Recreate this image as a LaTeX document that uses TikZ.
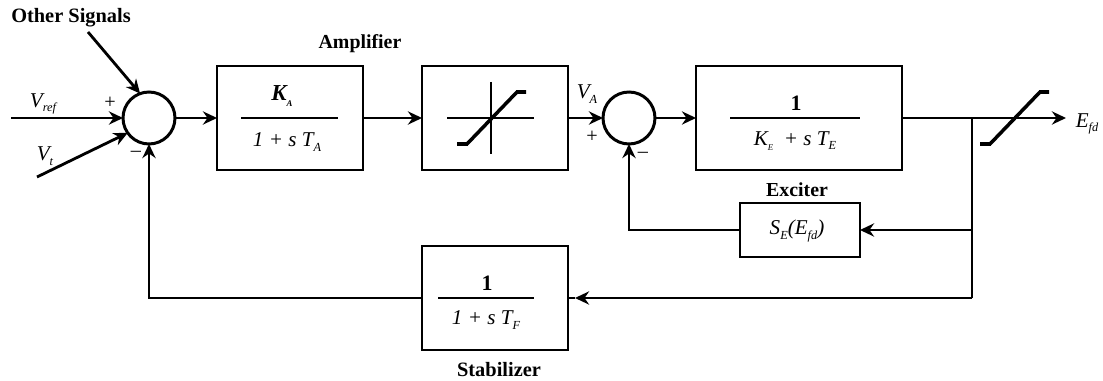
\documentclass[tikz,border=0pt]{standalone}
\usepackage{fontspec}
\setmainfont{Liberation Serif}
\usetikzlibrary{arrows.meta}
\newcommand{\lowsub}[1]{\raisebox{-.45ex}{\scriptsize\itshape #1}}
\newcommand{\lowtiny}[1]{\raisebox{-.5ex}{\tiny #1}}
\tikzset{
  blockbox/.style={draw,line width=1.6pt,inner sep=0pt,outer sep=0pt},
  sumnode/.style={draw,circle,line width=1.7pt,minimum size=1.04cm,inner sep=0pt,outer sep=0pt},
  sigline/.style={line width=1.6pt,-{Stealth[length=8pt,width=7.5pt]}},
  plainline/.style={line width=1.6pt},
  fracbar/.style={line width=1.6pt},
  thinbar/.style={line width=1pt},
  boldlabel/.style={font=\bfseries\fontsize{11.3}{13}\selectfont,inner sep=0pt},
  siglabel/.style={font=\itshape\fontsize{12}{13}\selectfont,inner sep=0pt},
  signlabel/.style={font=\fontsize{11.5}{13}\selectfont,inner sep=0pt},
}
\begin{document}
\begin{tikzpicture}[x=0.02cm,y=-0.02cm]
  \useasboundingbox (0,0) rectangle (1103,381);
  % summing junctions
  \node[sumnode] (sumA) at (149,118) {};
  \node[sumnode] (sumE) at (629,118) {};
  % blocks
  \node[blockbox,minimum width=2.92cm,minimum height=2.08cm] (ampBox) at (290,118) {};
  \node[blockbox,minimum width=2.92cm,minimum height=2.08cm] (limBox) at (495,118) {};
  \node[blockbox,minimum width=4.12cm,minimum height=2.08cm] (excBox) at (799,118) {};
  \node[blockbox,minimum width=2.4cm,minimum height=1.08cm] (satBox) at (800,230) {};
  \node[blockbox,minimum width=2.92cm,minimum height=2.08cm] (stabBox) at (495,298) {};
  % amplifier
  \draw[fracbar] (241,118) -- (338,118);
  \node[siglabel,font=\bfseries\itshape\fontsize{13}{13}\selectfont] (ampNum) at (282,96) {K\lowtiny{A}};
  \node[siglabel] (ampDen) at (287,142) {1 + s T\lowsub{A}};
  % limiter
  \draw[fracbar] (447,118) -- (534,118);
  \draw[thinbar] (491,82) -- (491,154);
  \draw[line width=2pt] (457,144) -- (467,144) -- (517,92) -- (526,92);
  % exciter
  \draw[fracbar] (730,118) -- (860,118);
  \node[boldlabel,font=\bfseries\fontsize{12.5}{13}\selectfont] (excNum) at (796,103) {1};
  \node[siglabel] (excDen) at (795,141) {K\lowtiny{E}~ + s T\lowsub{E}};
  \node[siglabel] (satText) at (797,231) {S\lowsub{E}(E\lowsub{fd})};
  % stabilizer
  \draw[fracbar] (438,298) -- (534,298);
  \node[boldlabel,font=\bfseries\fontsize{12.5}{13}\selectfont] (stabNum) at (487,283) {1};
  \node[siglabel] (stabDen) at (486,320) {1 + s T\lowsub{F}};
  % output limit
  \draw[line width=2pt] (980,144) -- (990,144) -- (1040,92) -- (1049,92);
  % inputs
  \coordinate (refIn) at (11,118);
  \coordinate (tIn) at (37,177);
  \coordinate (otherIn) at (88,32);
  \draw[sigline] (refIn) -- (sumA.west);
  \draw[sigline] (tIn) -- (sumA.215);
  \draw[sigline] (otherIn) -- (sumA.110);
  % forward path
  \draw[sigline] (sumA.east) -- (ampBox.west);
  \draw[sigline] (ampBox.east) -- (limBox.west);
  \draw[sigline] (limBox.east) -- (sumE.west);
  \draw[sigline] (sumE.east) -- (excBox.west);
  \coordinate (tapOut) at (972,118);
  \coordinate (tapSat) at (972,230);
  \coordinate (tapStab) at (972,298);
  \coordinate (tipStab) at (575,298);
  \coordinate (endOut) at (1066,118);
  \draw[sigline] (excBox.east) -- (endOut);
  % feedback
  \draw[plainline] (tapOut) -- (tapStab);
  \draw[sigline] (tapSat) -- (satBox.east);
  \draw[sigline] (tapStab) -- (tipStab);
  \draw[plainline] (tipStab) -- (stabBox.east);
  \draw[sigline] (satBox.west) -| (sumE.south);
  \draw[sigline] (stabBox.west) -| (sumA.south);
  % labels
  \node[boldlabel,font=\bfseries\fontsize{11.6}{13}\selectfont] (otherLab) at (71,18) {Other Signals};
  \node[boldlabel] (ampLab) at (360,44) {Amplifier};
  \node[boldlabel] (excLab) at (797,190) {Exciter};
  \node[boldlabel,font=\bfseries\fontsize{11.6}{13}\selectfont] (stabLab) at (499,370) {Stabilizer};
  \node[siglabel] (refLab) at (43,104) {V\lowsub{ref}};
  \node[siglabel] (tLab) at (45,156) {V\lowsub{t}};
  \node[siglabel] (aLab) at (587,94) {V\lowsub{A}};
  \node[siglabel] (fdLab) at (1087,124) {E\lowsub{fd}};
  \node[signlabel] (plusA) at (110,103) {+};
  \node[signlabel] (minusA) at (136,154) {--};
  \node[signlabel] (plusE) at (592,137) {+};
  \node[signlabel] (minusE) at (643,155) {--};
\end{tikzpicture}
\end{document}
